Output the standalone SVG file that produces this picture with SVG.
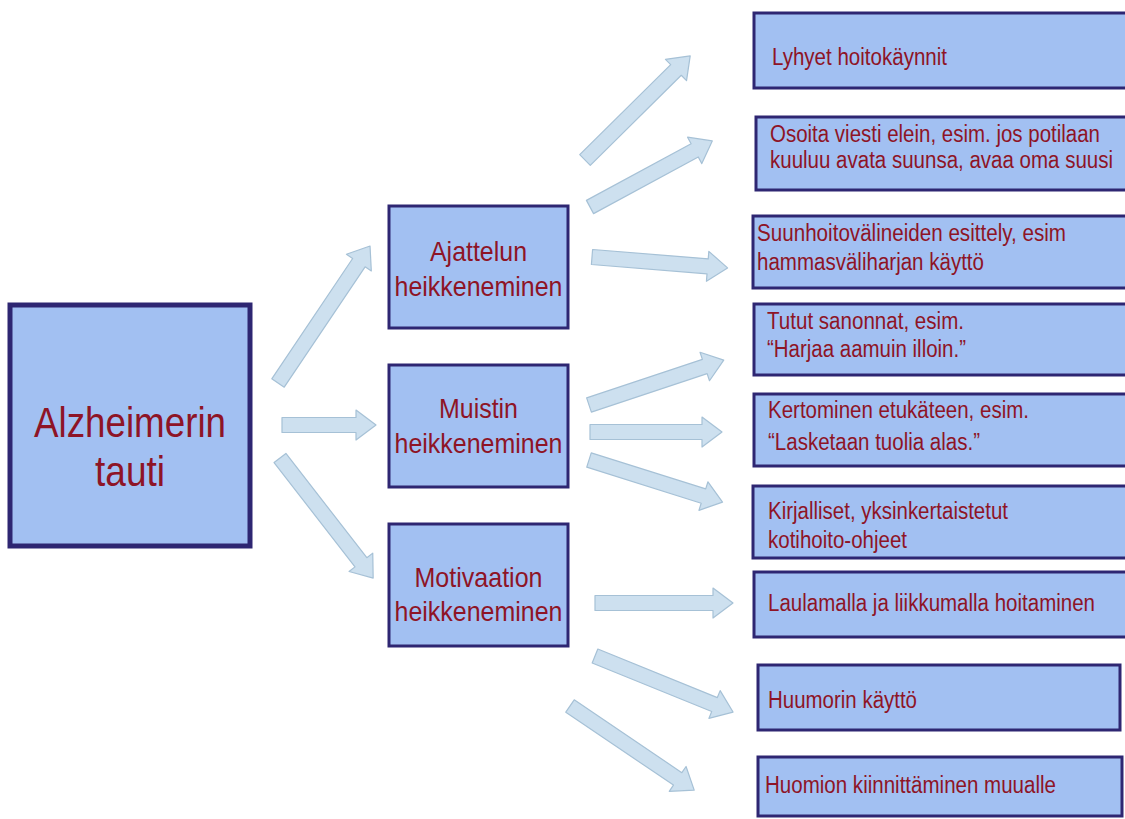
<svg xmlns="http://www.w3.org/2000/svg" width="1125" height="819" viewBox="0 0 1125 819">
<style>
.bg{fill:#ffffff}
.box{fill:#a2c0f2;stroke:#2e2672;stroke-width:3}
.main{fill:#a2c0f2;stroke:#2e2672;stroke-width:5}
.t{font-family:"Liberation Sans",Arial,sans-serif;fill:#8e1426}
.tr{font-size:23px}
.tm{font-size:28px;text-anchor:middle}
.tb{font-size:42px;text-anchor:middle}
.arr{fill:#cde0ef;stroke:#a6c1d6;stroke-width:1.2;stroke-linejoin:round}
</style>
<rect class="bg" x="0" y="0" width="1125" height="819"/>
<g id="connectors">
<polygon class="arr" transform="translate(278,383) rotate(-56.1)" points="0,-7.5 145,-7.5 145,-15 165,0 145,15 145,7.5 0,7.5"/>
<polygon class="arr" transform="translate(282,425) rotate(0)" points="0,-7.5 74,-7.5 74,-15 94,0 74,15 74,7.5 0,7.5"/>
<polygon class="arr" transform="translate(280,458) rotate(52.2)" points="0,-7.5 132,-7.5 132,-15 152,0 132,15 132,7.5 0,7.5"/>
<polygon class="arr" transform="translate(585,160) rotate(-44.7)" points="0,-7.5 128,-7.5 128,-15 148,0 128,15 128,7.5 0,7.5"/>
<polygon class="arr" transform="translate(590,207) rotate(-28.4)" points="0,-7.5 119,-7.5 119,-15 139,0 119,15 119,7.5 0,7.5"/>
<polygon class="arr" transform="translate(592,257) rotate(4.6)" points="0,-7.5 116,-7.5 116,-15 136,0 116,15 116,7.5 0,7.5"/>
<polygon class="arr" transform="translate(589,405) rotate(-18.4)" points="0,-7.5 122,-7.5 122,-15 142,0 122,15 122,7.5 0,7.5"/>
<polygon class="arr" transform="translate(590,432) rotate(0)" points="0,-7.5 112,-7.5 112,-15 132,0 112,15 112,7.5 0,7.5"/>
<polygon class="arr" transform="translate(589,460) rotate(17.5)" points="0,-7.5 120,-7.5 120,-15 140,0 120,15 120,7.5 0,7.5"/>
<polygon class="arr" transform="translate(595,603) rotate(0)" points="0,-7.5 118,-7.5 118,-15 138,0 118,15 118,7.5 0,7.5"/>
<polygon class="arr" transform="translate(595,656) rotate(22.1)" points="0,-7.5 129,-7.5 129,-15 149,0 129,15 129,7.5 0,7.5"/>
<polygon class="arr" transform="translate(570,706) rotate(34.1)" points="0,-7.5 130,-7.5 130,-15 150,0 130,15 130,7.5 0,7.5"/>
</g>
<g id="n-alzheimer">
<rect class="main" x="10" y="305" width="240" height="241"/>
<text class="t tb" x="130" y="437" textLength="192" lengthAdjust="spacingAndGlyphs">Alzheimerin</text>
<text class="t tb" x="130" y="486" textLength="70" lengthAdjust="spacingAndGlyphs">tauti</text>
</g>
<g id="n-ajattelun">
<rect class="box" x="389" y="206" width="179" height="122"/>
<text class="t tm" x="478.5" y="261" textLength="97" lengthAdjust="spacingAndGlyphs">Ajattelun</text>
<text class="t tm" x="478.5" y="296" textLength="168" lengthAdjust="spacingAndGlyphs">heikkeneminen</text>
</g>
<g id="n-muistin">
<rect class="box" x="389" y="365" width="179" height="122"/>
<text class="t tm" x="478.5" y="418" textLength="79" lengthAdjust="spacingAndGlyphs">Muistin</text>
<text class="t tm" x="478.5" y="453" textLength="168" lengthAdjust="spacingAndGlyphs">heikkeneminen</text>
</g>
<g id="n-motivaation">
<rect class="box" x="389" y="524" width="179" height="122"/>
<text class="t tm" x="478.5" y="587" textLength="128" lengthAdjust="spacingAndGlyphs">Motivaation</text>
<text class="t tm" x="478.5" y="621" textLength="168" lengthAdjust="spacingAndGlyphs">heikkeneminen</text>
</g>
<g id="n-lyhyet">
<rect class="box" x="754" y="13" width="385" height="75"/>
<text class="t tr" x="772" y="65" textLength="175" lengthAdjust="spacingAndGlyphs">Lyhyet hoitokäynnit</text>
</g>
<g id="n-osoita">
<rect class="box" x="756" y="117" width="385" height="73"/>
<text class="t tr" x="770" y="142" textLength="330" lengthAdjust="spacingAndGlyphs">Osoita viesti elein, esim. jos potilaan</text>
<text class="t tr" x="770" y="168" textLength="343" lengthAdjust="spacingAndGlyphs">kuuluu avata suunsa, avaa oma suusi</text>
</g>
<g id="n-suunhoito">
<rect class="box" x="753" y="216" width="385" height="72"/>
<text class="t tr" x="757" y="241" textLength="309" lengthAdjust="spacingAndGlyphs">Suunhoitovälineiden esittely, esim</text>
<text class="t tr" x="757" y="270" textLength="227" lengthAdjust="spacingAndGlyphs">hammasväliharjan käyttö</text>
</g>
<g id="n-tutut">
<rect class="box" x="754" y="304" width="385" height="71"/>
<text class="t tr" x="767" y="329" textLength="197" lengthAdjust="spacingAndGlyphs">Tutut sanonnat, esim.</text>
<text class="t tr" x="767" y="357" textLength="199" lengthAdjust="spacingAndGlyphs">“Harjaa aamuin illoin.”</text>
</g>
<g id="n-kertominen">
<rect class="box" x="754" y="394" width="385" height="72"/>
<text class="t tr" x="768" y="418" textLength="261" lengthAdjust="spacingAndGlyphs">Kertominen etukäteen, esim.</text>
<text class="t tr" x="768" y="450" textLength="212" lengthAdjust="spacingAndGlyphs">“Lasketaan tuolia alas.”</text>
</g>
<g id="n-kirjalliset">
<rect class="box" x="753" y="486" width="385" height="72"/>
<text class="t tr" x="768" y="519" textLength="240" lengthAdjust="spacingAndGlyphs">Kirjalliset, yksinkertaistetut</text>
<text class="t tr" x="768" y="548" textLength="139" lengthAdjust="spacingAndGlyphs">kotihoito-ohjeet</text>
</g>
<g id="n-laulamalla">
<rect class="box" x="754" y="572" width="385" height="65"/>
<text class="t tr" x="768" y="611" textLength="327" lengthAdjust="spacingAndGlyphs">Laulamalla ja liikkumalla hoitaminen</text>
</g>
<g id="n-huumorin">
<rect class="box" x="758" y="665" width="362" height="65"/>
<text class="t tr" x="768" y="708" textLength="149" lengthAdjust="spacingAndGlyphs">Huumorin käyttö</text>
</g>
<g id="n-huomion">
<rect class="box" x="758" y="757" width="364" height="59"/>
<text class="t tr" x="765" y="793" textLength="291" lengthAdjust="spacingAndGlyphs">Huomion kiinnittäminen muualle</text>
</g>
</svg>
